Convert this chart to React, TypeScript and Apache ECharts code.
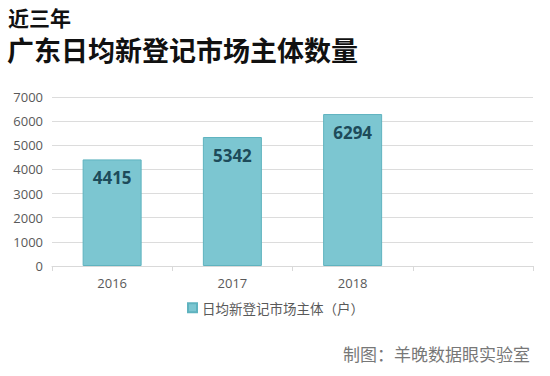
import React, { useEffect, useRef } from "react";
import * as echarts from "echarts";

const categories = ["2016", "2017", "2018", ""];
const values: (number | null)[] = [4415, 5342, 6294, null];
const seriesName = "日均新登记市场主体（户）";
const titleLine1 = "近三年";
const titleLine2 = "广东日均新登记市场主体数量";
const credit = "制图：羊晚数据眼实验室";

const FONT = '"Noto Sans CJK SC", "Noto Sans", sans-serif';
const NUMFONT = '"Open Sans", "Noto Sans CJK SC", sans-serif';

export default function App() {
  const ref = useRef<HTMLDivElement>(null);
  useEffect(() => {
    if (!ref.current) return;
    const chart = echarts.init(ref.current, undefined, { renderer: "svg" });
    chart.setOption({
      animation: false,
      backgroundColor: "#ffffff",
      textStyle: { fontFamily: FONT },
      graphic: [
        {
          type: "text",
          left: 8,
          top: 6,
          style: { text: titleLine1, fontFamily: FONT, fontSize: 21, fontWeight: "bold", fill: "#111" },
        },
        {
          type: "text",
          left: 7,
          top: 36,
          style: { text: titleLine2, fontFamily: FONT, fontSize: 27, fontWeight: "bold", fill: "#111" },
        },
        {
          type: "text",
          right: 20,
          top: 345,
          style: { text: credit, fontFamily: FONT, fontSize: 17, fill: "#777" },
        },
      ],
      legend: {
        data: [seriesName],
        left: 182,
        top: 296,
        icon: "rect",
        itemWidth: 9,
        itemHeight: 9,
        itemGap: 5,
        textStyle: { fontFamily: FONT, fontSize: 13.5, color: "#595959" },
      },
      grid: { left: 52, right: 17, top: 97, bottom: 110, containLabel: false },
      xAxis: {
        type: "category",
        data: categories,
        axisLine: { lineStyle: { color: "#d9d9d9" } },
        axisTick: { show: true, alignWithLabel: false, lineStyle: { color: "#d9d9d9" } },
        axisLabel: { color: "#595959", fontSize: 13, fontFamily: NUMFONT, margin: 10 },
      },
      yAxis: {
        type: "value",
        min: 0,
        max: 7000,
        interval: 1000,
        axisLine: { show: false },
        axisTick: { show: false },
        axisLabel: {
          color: "#595959",
          fontSize: 13,
          fontFamily: NUMFONT,
          margin: 9,
          formatter: (v: number) => String(v),
        },
        splitLine: { lineStyle: { color: "#dcdcdc" } },
      },
      series: [
        {
          name: seriesName,
          type: "bar",
          data: values,
          barWidth: 59,
          itemStyle: { color: "#7cc6d1", borderColor: "#5fb3bf", borderWidth: 1 },
          label: {
            show: true,
            position: "insideTop",
            distance: 10,
            color: "#1d4b5a",
            fontSize: 17,
            fontWeight: "bold",
            fontFamily: NUMFONT,
          },
        },
      ],
    });
    return () => chart.dispose();
  }, []);
  return (
    <div
      ref={ref}
      style={{ position: "fixed", left: 0, top: 0, width: 550, height: 376 }}
    />
  );
}
